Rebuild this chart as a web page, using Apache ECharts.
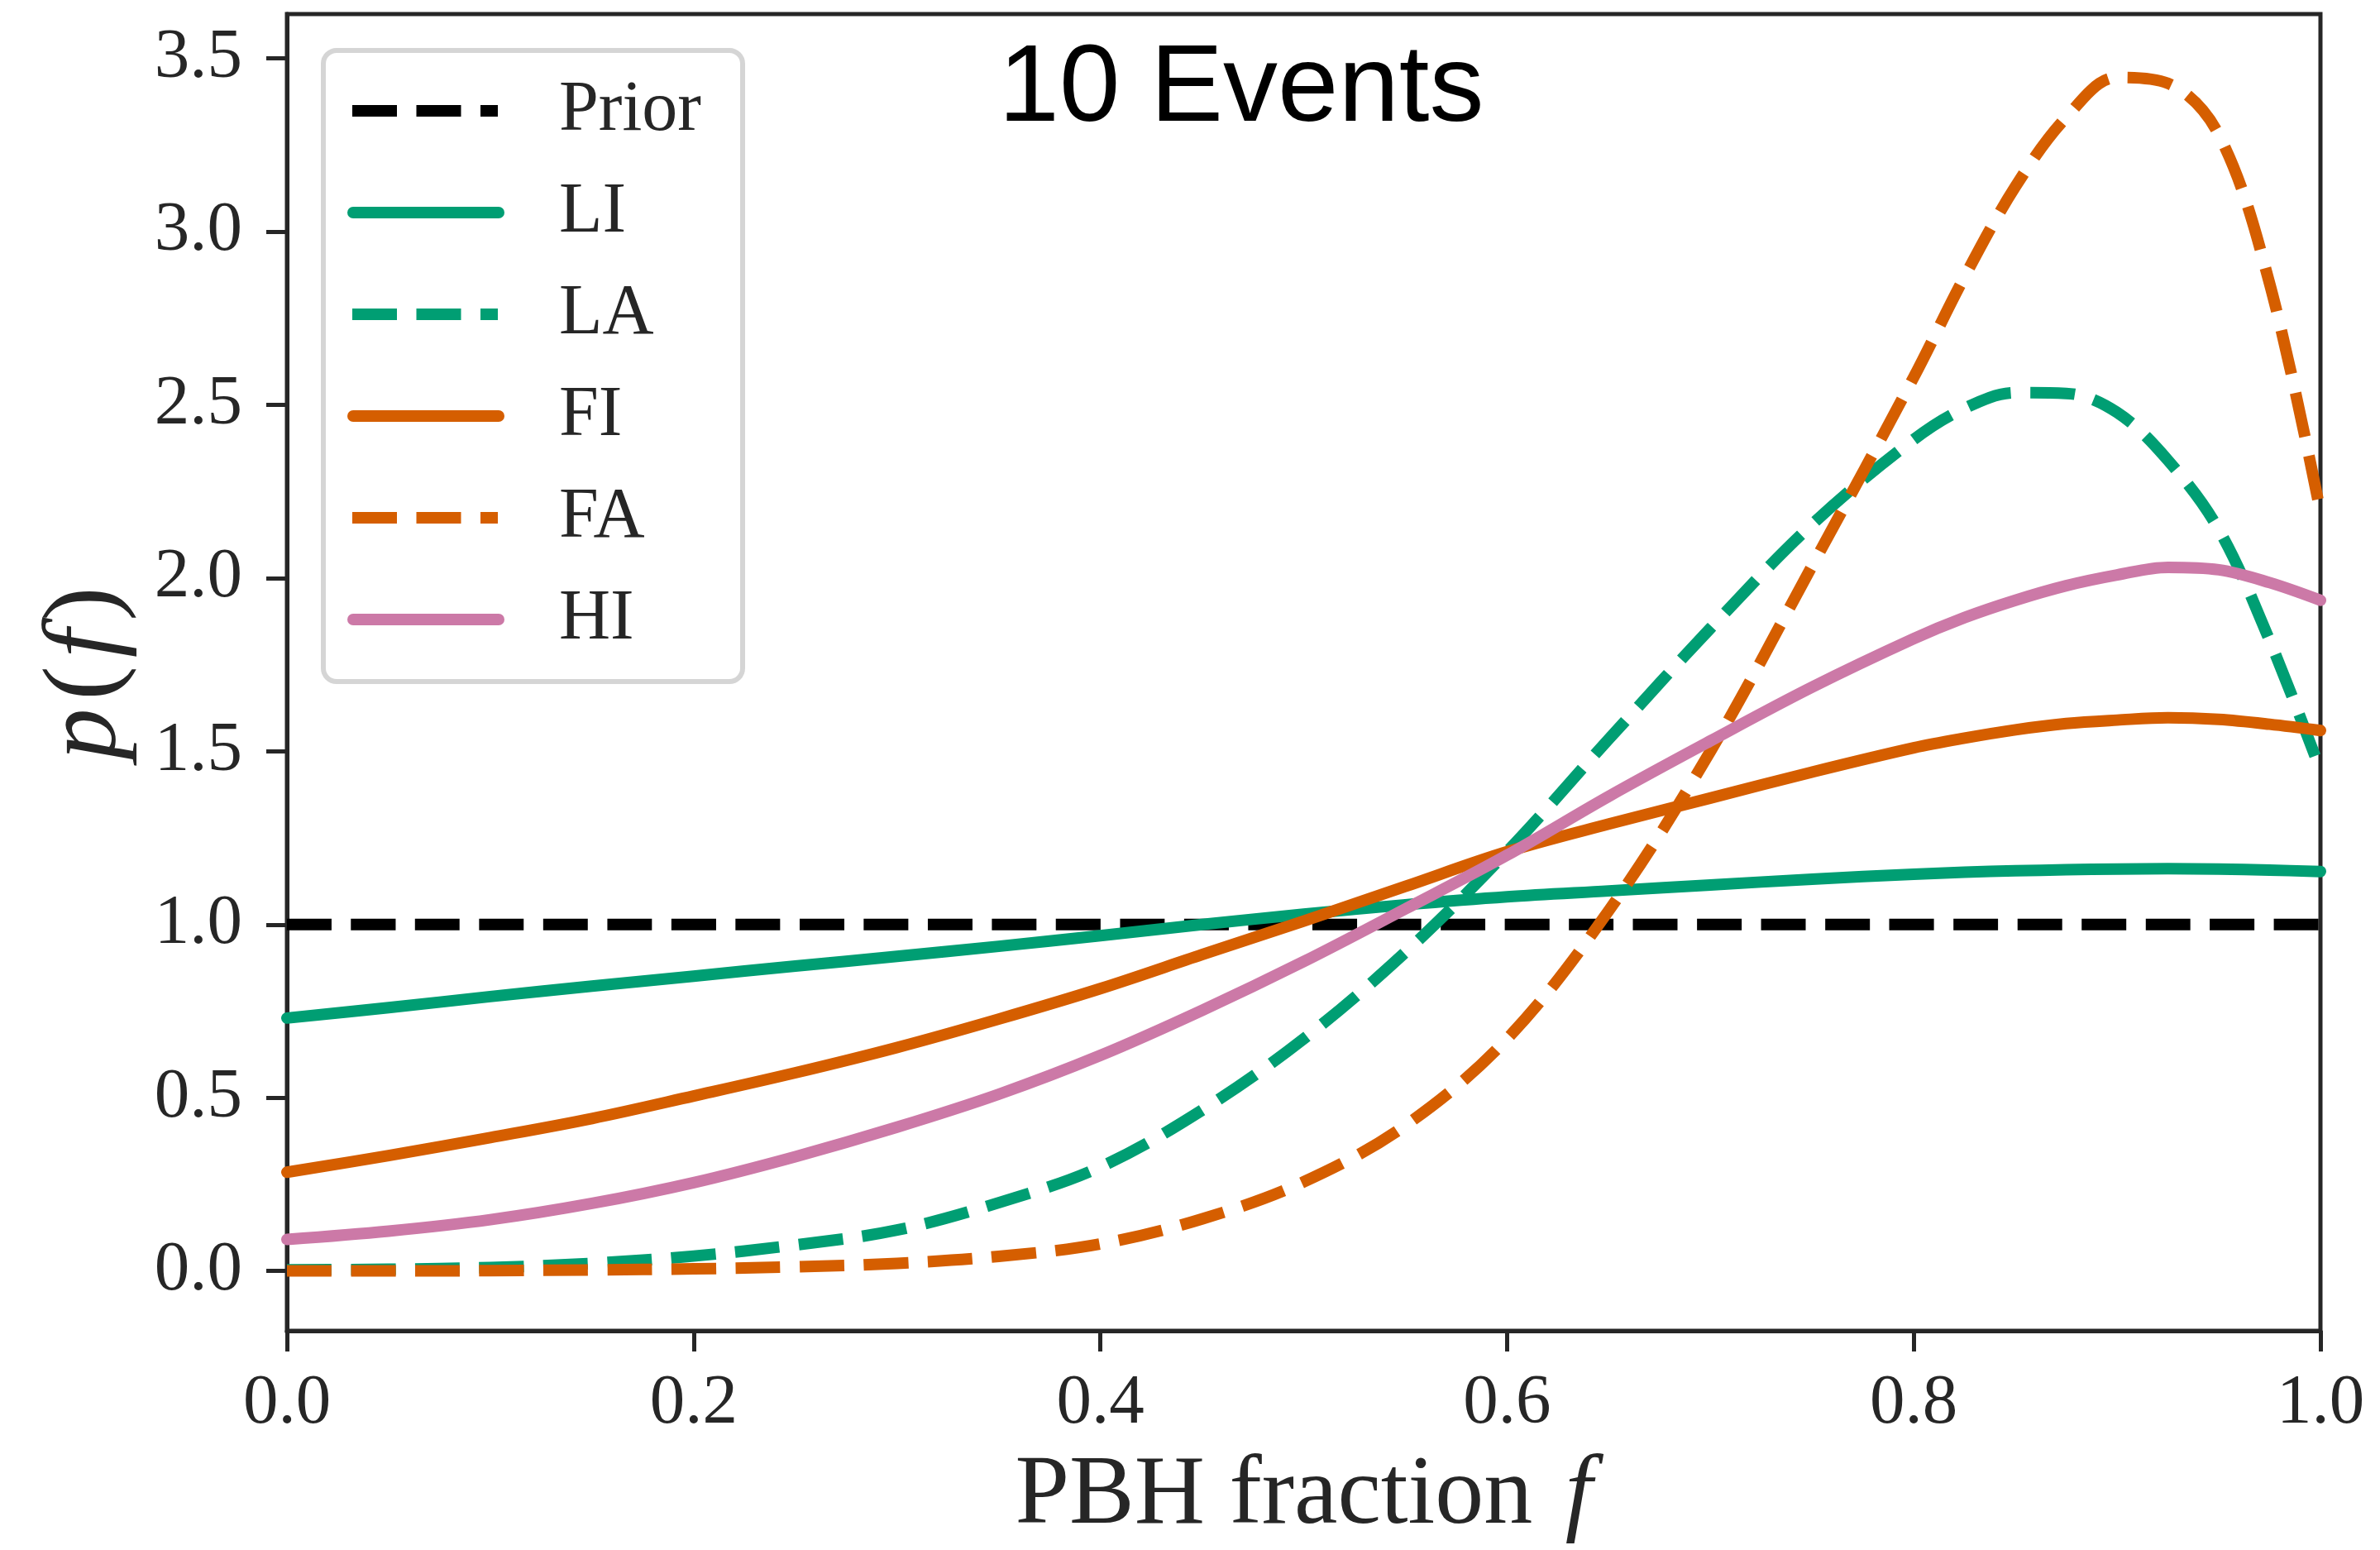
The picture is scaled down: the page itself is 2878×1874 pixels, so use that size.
<!DOCTYPE html>
<html><head><meta charset="utf-8">
<script src="https://cdn.jsdelivr.net/npm/echarts@6/dist/echarts.min.js"></script>
<style>html,body{margin:0;padding:0;background:#fff}#c{width:2878px;height:1874px}</style>
</head><body><div id="c"></div>
<script>
// PBH fraction f grid
const fValues = [0,0.05,0.1,0.15,0.2,0.25,0.3,0.35,0.4,0.45,0.5,0.55,0.6,0.65,0.7,0.75,0.8,0.825,0.85,0.875,0.9,0.925,0.95,0.975,1.0];
const LI = [0.73,0.760,0.792,0.822,0.851,0.880,0.908,0.937,0.968,1.0,1.03,1.057,1.080,1.097,1.114,1.131,1.145,1.151,1.155,1.158,1.160,1.161,1.160,1.157,1.153];
const LA = [0.003,0.005,0.01,0.022,0.043,0.075,0.118,0.197,0.30,0.464,0.67,0.92,1.21,1.535,1.855,2.155,2.40,2.49,2.535,2.533,2.478,2.34,2.14,1.82,1.445];
const FI = [0.285,0.333,0.385,0.44,0.505,0.572,0.645,0.727,0.815,0.913,1.01,1.11,1.21,1.29,1.365,1.44,1.51,1.538,1.562,1.58,1.59,1.597,1.592,1.578,1.56];
const FA = [0,0,0.001,0.003,0.006,0.012,0.022,0.042,0.078,0.15,0.257,0.42,0.67,1.04,1.50,2.035,2.58,2.87,3.13,3.33,3.445,3.428,3.28,2.85,2.19];
const HI = [0.091,0.115,0.148,0.195,0.255,0.33,0.415,0.51,0.622,0.752,0.893,1.045,1.2,1.37,1.53,1.685,1.825,1.886,1.936,1.978,2.009,2.031,2.024,1.987,1.936];
const priorF = [0, 1];
const priorV = [1, 1];
const yTicks = [0,0.5,1.0,1.5,2.0,2.5,3.0,3.5];
const seriesNames = ['Prior','LI','LA','FI','FA','HI'];
const dashedNames = ['Prior','LA','FA'];

const GREEN = '#009E73', ORANGE = '#D55E00', PINK = '#CC79A7', INK = '#262626';
const SERIF = 'Liberation Serif';
const DASH = [54, 23.5];
const ICON_DASH = 'path://M0,6h0.01v0.01h-0.01z M6,0h54v14h-54z M83.5,0h54v14h-54z M161,0h21v14h-21z M189.99,6h0.01v0.01h-0.01z';
const ICON_SOLID = 'path://M7,0H183A7,7 0 0 1 183,14H7A7,7 0 0 1 7,0Z';

function pairs(xs, ys){ return xs.map((x,i)=>[x, ys[i]]); }
function mk(name, xs, ys, color, dashed){
  return {
    name, type:'line', data: pairs(xs, ys), showSymbol:false, symbol:'none',
    smooth: 0.35, animation:false,
    lineStyle:{color, width:14, type: dashed ? DASH : 'solid', cap: dashed ? 'butt' : 'round', join:'round'},
    itemStyle:{color}
  };
}

const chart = echarts.init(document.getElementById('c'));
chart.setOption({
  animation:false,
  backgroundColor:'#fff',
  grid:{left:347, right:72, top:17, bottom:259, show:true, borderColor:INK, borderWidth:5, backgroundColor:'transparent'},
  xAxis:{
    type:'value', min:0, max:1, interval:0.2,
    axisLine:{onZero:false, lineStyle:{color:INK, width:5}},
    axisTick:{show:true, length:25, lineStyle:{color:INK, width:5}},
    splitLine:{show:false},
    axisLabel:{margin:46, fontFamily:SERIF, fontSize:85, color:INK, formatter:v=>v.toFixed(1)},
    name:'{a|PBH fraction }{i|f}', nameLocation:'middle', nameGap:142,
    nameTextStyle:{rich:{a:{fontFamily:SERIF, fontSize:118, color:INK}, i:{fontFamily:SERIF, fontStyle:'italic', fontSize:118, color:INK, padding:[0,0,0,10]}}}
  },
  yAxis:{
    type:'value', min:-0.1728, max:3.628,
    axisLine:{onZero:false, lineStyle:{color:INK, width:5}},
    axisTick:{show:true, length:25, customValues:yTicks, lineStyle:{color:INK, width:5}},
    splitLine:{show:false},
    axisLabel:{margin:54, fontFamily:SERIF, fontSize:85, color:INK, customValues:yTicks, formatter:v=>v.toFixed(1)},
    name:'{i|p}{a|(}{i|f}{a|)}', nameLocation:'middle', nameGap:180, nameRotate:90,
    nameTextStyle:{rich:{
      a:{fontFamily:SERIF, fontSize:124, color:INK, padding:[0,6,0,6]},
      i:{fontFamily:SERIF, fontStyle:'italic', fontSize:124, color:INK, padding:[0,4,0,4]}}}
  },
  legend:{
    orient:'vertical', left:391, top:61, selectedMode:false,
    itemWidth:190, itemHeight:14, itemGap:37,
    padding:[30,50,32,29],
    backgroundColor:'#fff', borderColor:'#d5d5d5', borderWidth:6, borderRadius:16,
    itemStyle:{borderWidth:0},
    textStyle:{fontFamily:SERIF, fontSize:86, lineHeight:86, color:INK, padding:[0,0,0,61]},
    data:seriesNames.map(n=>({name:n, icon: dashedNames.includes(n) ? ICON_DASH : ICON_SOLID}))
  },
  graphic:[{
    type:'text', z:100,
    style:{text:'10 Events', x:1501, y:110, textAlign:'center', textVerticalAlign:'middle',
      fontFamily:'Liberation Sans', fontSize:132, fill:'#000'}
  }],
  series:[
    mk('Prior', priorF, priorV, '#000', true),
    mk('LI', fValues, LI, GREEN, false),
    mk('LA', fValues, LA, GREEN, true),
    mk('FI', fValues, FI, ORANGE, false),
    mk('FA', fValues, FA, ORANGE, true),
    mk('HI', fValues, HI, PINK, false)
  ]
});
</script></body></html>
